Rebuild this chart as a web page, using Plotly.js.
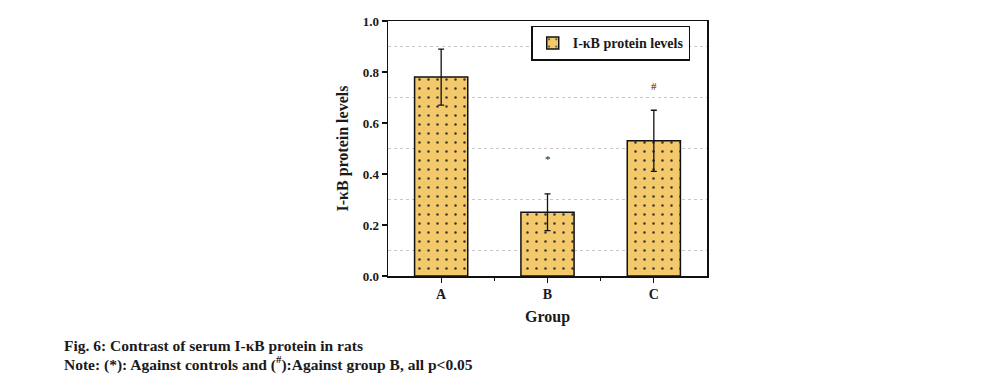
<!DOCTYPE html>
<html>
<head>
<meta charset="utf-8">
<script src="https://cdn.plot.ly/plotly-3.0.1.min.js"></script>
<style>html,body{margin:0;padding:0;background:#fff;}</style>
</head>
<body>
<div id="chart" style="width:988px;height:386px;"></div>
<script>
// Data
const groups = ['A', 'B', 'C'];
const levels = [0.78, 0.25, 0.53];
const errors = [0.11, 0.072, 0.12];
const sigLabels = ['', '*', '#'];
const sigY = [null, 0.46, 0.745];
const yTicks = [0.0, 0.2, 0.4, 0.6, 0.8, 1.0];
const yTickText = ['0.0', '0.2', '0.4', '0.6', '0.8', '1.0'];

const xIdx = groups.map((g, i) => i);
const serif = 'Liberation Serif, Times New Roman, serif';
const ink = '#1a1a1a';
const fill = '#F3C96B';

const bar = {
  type: 'bar',
  x: xIdx,
  y: levels,
  width: 0.5,
  name: '<b>I-κB protein levels</b>',
  marker: {
    color: fill,
    line: {color: '#111', width: 1.5},
    pattern: {shape: '.', fgcolor: '#333', bgcolor: fill, fillmode: 'replace', size: 9, solidity: 0.06}
  },
  error_y: {type: 'data', array: errors, visible: true, color: '#111', thickness: 1.3, width: 3},
  hoverinfo: 'skip'
};

const annotations = [];
sigLabels.forEach((s, i) => {
  if (s) annotations.push({x: xIdx[i], y: sigY[i], xref: 'x', yref: 'y', text: s, showarrow: false,
    font: {family: serif, size: 11, color: ink}});
});
annotations.push({xref: 'paper', yref: 'paper', x: -1.022, y: -0.271, xanchor: 'left', yanchor: 'middle', showarrow: false,
  text: '<b>Fig. 6: Contrast of serum I-κB protein in rats</b>', font: {family: serif, size: 15.5, color: ink}});
annotations.push({xref: 'paper', yref: 'paper', x: -1.022, y: -0.342, xanchor: 'left', yanchor: 'middle', showarrow: false,
  text: '<b>Note: (*): Against controls and (<sup>#</sup>):Against group B, all p<0.05</b>', font: {family: serif, size: 15.5, color: ink}});

const layout = {
  width: 988, height: 386,
  margin: {l: 388, r: 281, t: 21, b: 110, pad: 0},
  paper_bgcolor: '#fff', plot_bgcolor: '#fff',
  showlegend: true,
  legend: {x: 0.449, y: 0.981, xanchor: 'left', yanchor: 'top', bgcolor: '#fff', bordercolor: '#111', borderwidth: 1.5,
    font: {family: serif, size: 14, color: ink}, itemwidth: 30, tracegroupgap: 0},
  xaxis: {
    range: [-0.5, 2.5], tickvals: xIdx, ticktext: groups.map(g => '<b>' + g + '</b>'),
    showline: true, linecolor: '#111', linewidth: 1.5, mirror: true,
    ticks: 'outside', ticklen: 5, tickwidth: 1.3, tickcolor: '#111',
    showgrid: false, zeroline: false,
    minor: {tickvals: [0.5, 1.5], ticks: 'outside', ticklen: 3, tickwidth: 1.2, tickcolor: '#111', showgrid: false},
    tickfont: {family: serif, size: 14, color: ink},
    title: {text: '<b>Group</b>', font: {family: serif, size: 16, color: ink}, standoff: 9}
  },
  yaxis: {
    range: [0, 1.0], tickvals: yTicks, ticktext: yTickText.map(t => '<b>' + t + '</b>'),
    showline: true, linecolor: '#111', linewidth: 1.5, mirror: true,
    ticks: 'outside', ticklen: 5, tickwidth: 1.3, tickcolor: '#111',
    showgrid: false, zeroline: false,
    minor: {tick0: 0.1, dtick: 0.2, showgrid: true, gridcolor: '#c8c8c8', griddash: 'dot', gridwidth: 1, ticks: ''},
    tickfont: {family: serif, size: 13, color: ink},
    title: {text: '<b>I-κB protein levels</b>', font: {family: serif, size: 16, color: ink}, standoff: 10}
  },
  annotations: annotations
};

Plotly.newPlot('chart', [bar], layout, {displayModeBar: false, staticPlot: true});
</script>
</body>
</html>
